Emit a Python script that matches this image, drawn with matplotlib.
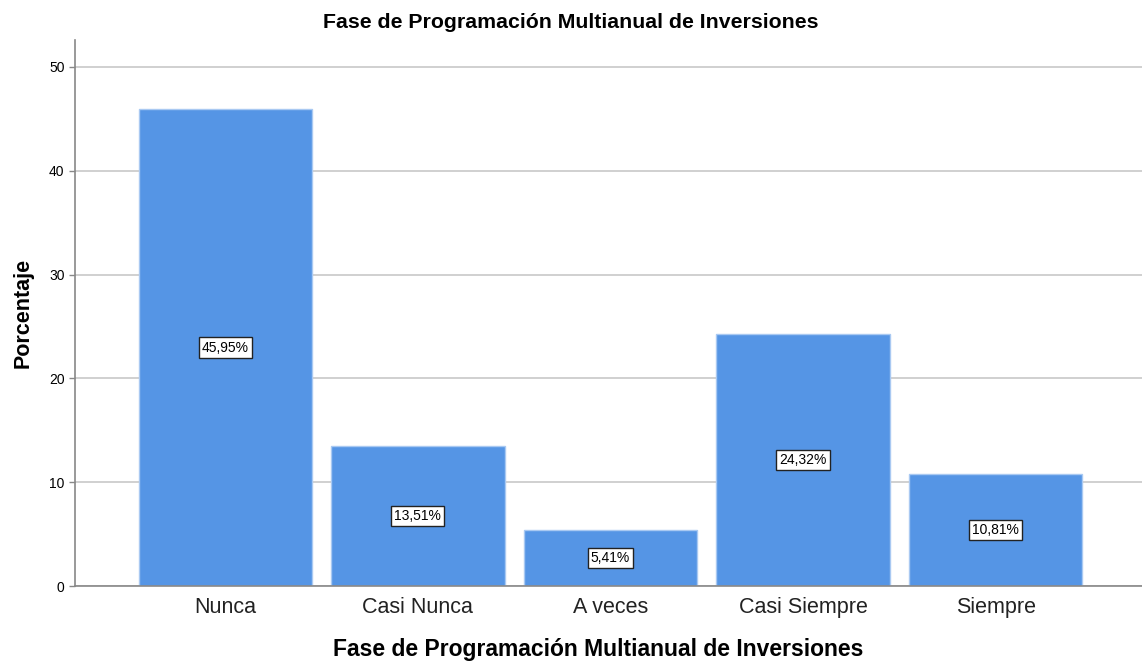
import matplotlib.pyplot as plt

plt.rcParams['font.family'] = ['Liberation Sans', 'DejaVu Sans']

# data
categories = ["Nunca", "Casi Nunca", "A veces", "Casi Siempre", "Siempre"]
percentages = [45.95, 13.51, 5.41, 24.32, 10.81]
yticks = [0, 10, 20, 30, 40, 50]

title = "Fase de Programación Multianual de Inversiones"

fig = plt.figure(figsize=(11.42, 6.62), dpi=100)
ax = fig.add_axes([0.0657, 0.1148, 0.9343, 0.8248])

x = list(range(len(categories)))
bars = ax.bar(x, percentages, width=0.9, color="#5595e5", edgecolor="#a9c9f2",
              linewidth=1, zorder=2)

# value labels in white boxes at half the bar height
for xi, val in zip(x, percentages):
    ax.text(xi, val / 2, f"{val:.2f}%".replace(".", ","), ha="center", va="center",
            fontsize=10, zorder=3,
            bbox=dict(boxstyle="square,pad=0.22", facecolor="white",
                      edgecolor="#222222", linewidth=1))

ax.set_xlim(-0.78, 4.76)
ax.set_ylim(0, 52.6)
ax.set_yticks(yticks)
ax.set_xticks(x)
ax.set_xticklabels(categories, fontsize=15.5, color="#222222")
ax.tick_params(axis="x", length=0, pad=8)
ax.tick_params(axis="y", labelsize=10, length=4, color="#888888", width=1)
ax.yaxis.grid(True, color="#c8c8c8", linewidth=1.2, zorder=0)

for s in ["top", "right"]:
    ax.spines[s].set_visible(False)
ax.spines["left"].set_color("#888888")
ax.spines["bottom"].set_color("#888888")
ax.spines["left"].set_linewidth(1.2)
ax.spines["bottom"].set_linewidth(1.2)

# title centred on the whole figure
fig.suptitle(title, x=0.5, y=0.966, va="center", fontsize=15.3, fontweight="bold")

ax.set_xlabel(title, fontsize=16.5, fontweight="bold", va="center")
ax.xaxis.set_label_coords(0.49, -0.117)
ax.set_ylabel("Porcentaje", fontsize=15.5, fontweight="bold", va="center")
ax.yaxis.set_label_coords(-0.049, 0.5)

plt.savefig("out.png", dpi=100)
